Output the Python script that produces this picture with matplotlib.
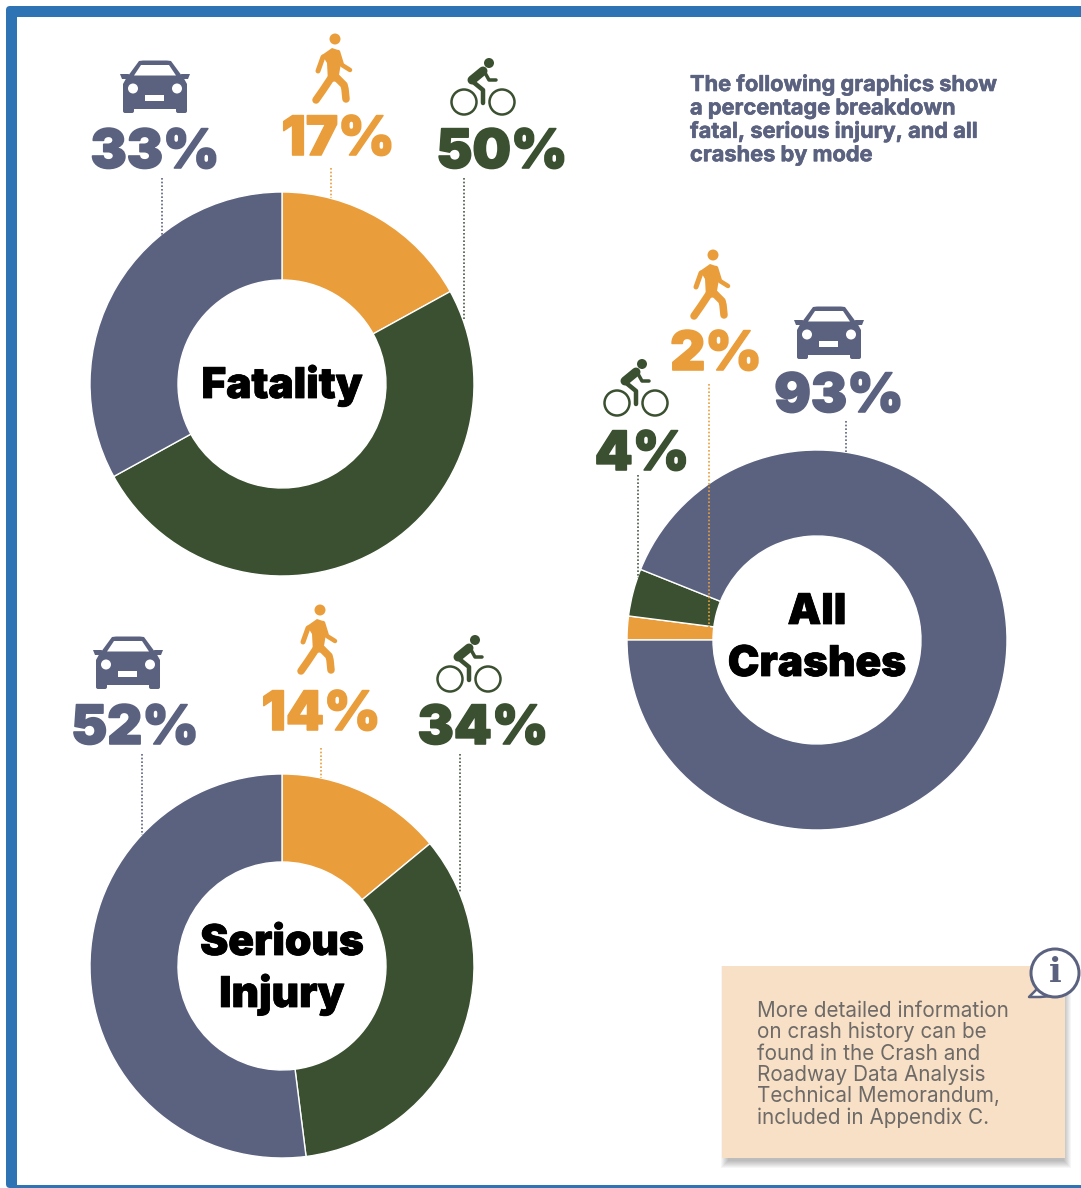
import matplotlib
matplotlib.use("Agg")
import matplotlib.pyplot as plt
import matplotlib.patheffects as pe
from matplotlib.patches import Circle, Polygon, Rectangle, FancyBboxPatch

W, H = 1081, 1188

slate = "#5b6280"
orange = "#ea9d3b"
green = "#3a5030"
leader_green = "#4a5a45"
frame_blue = "#2e74b5"
note_bg = "#f8e0c6"

# crash shares by mode, in percent
mode_colors = [orange, green, slate]
fatality_values = [17, 50, 33]
serious_values = [14, 34, 52]
all_crash_values = [2, 4, 93]

intro_lines = ["The following graphics show", "a percentage breakdown",
               "fatal, serious injury, and all", "crashes by mode"]
note_lines = ["More detailed information", "on crash history can be",
              "found in the Crash and", "Roadway Data Analysis",
              "Technical Memorandum,", "included in Appendix C."]

HEAVY = dict(family=["Inter", "DejaVu Sans"], fontweight=900)

fig = plt.figure(figsize=(W / 100, H / 100), dpi=100)
ax = fig.add_axes([0, 0, 1, 1])


def yy(y):
    # layout below is in pixels from the top edge
    return H - y


def px(v):
    return v * 72 / 100


def fatten(width, color):
    return [pe.withStroke(linewidth=px(width), foreground=color)]


def donut(values, colors, cx, cy, r_out, r_in, start):
    ax.pie(values, colors=colors, startangle=start, counterclock=False,
           radius=r_out, center=(cx, yy(cy)), frame=False,
           wedgeprops=dict(width=r_out - r_in, edgecolor="white", linewidth=1.0))


def leader(x, y0, y1, color):
    ax.plot([x, x], [yy(y0), yy(y1)], color=color, lw=1.2,
            linestyle=(0, (1, 1.2)), zorder=4)


def percent(x, baseline, value, color):
    ax.text(x, yy(baseline), f"{value}%", color=color, fontsize=39, ha="center",
            va="baseline", zorder=5, path_effects=fatten(1.6, color), **HEAVY)


def center_label(x, baseline, s):
    ax.text(x, yy(baseline), s, color="black", fontsize=30.5, ha="center",
            va="baseline", zorder=5, path_effects=fatten(0.8, "black"), **HEAVY)


def stroke(x0, y0, points, width, color):
    xs = [x0 + p[0] for p in points]
    ys = [yy(y0 + p[1]) for p in points]
    ax.plot(xs, ys, color=color, lw=px(width), solid_capstyle="round",
            solid_joinstyle="round", zorder=5)


def blob(x0, y0, points, color, z=5):
    ax.add_patch(Polygon([(x0 + a, yy(y0 + b)) for a, b in points],
                         closed=True, fc=color, ec="none", zorder=z))


def car_icon(cx, cy, color=slate):
    blob(cx, cy, [(-27, -12), (27, -12), (32, -3), (32, 22), (-32, 22), (-32, -3)], color)
    blob(cx, cy, [(-27, -11), (-16, -26), (-12, -26.5), (12, -26.5), (16, -26), (27, -11)], color)
    blob(cx, cy, [(-21, -11.5), (-14, -22), (14, -22), (21, -11.5)], "white", 6)
    blob(cx, cy, [(-35, -13), (-26, -13), (-27, -8), (-33, -8)], color)
    blob(cx, cy, [(35, -13), (26, -13), (27, -8), (33, -8)], color)
    for dx in (-32, 21):
        ax.add_patch(FancyBboxPatch((cx + dx, yy(cy + 26)), 11, 8,
                                    boxstyle="round,pad=0,rounding_size=2",
                                    fc=color, ec="none", zorder=5))
    for dx in (-22, 22):
        ax.add_patch(Circle((cx + dx, yy(cy + 1.5)), 5, fc="white", ec="none", zorder=6))
    ax.add_patch(Rectangle((cx - 10, yy(cy + 13.5)), 19, 6, fc="white", ec="none", zorder=6))


def walker_icon(hx, hy, color=orange):
    ax.add_patch(Circle((hx, yy(hy)), 5.5, fc=color, ec="none", zorder=5))
    blob(hx, hy, [(-13, 16), (-3, 9), (3, 11), (6, 24), (4, 36), (8, 42),
                  (-7, 43), (-8, 24)], color)
    stroke(hx, hy, [(-12, 18), (-17, 32)], 5, color)
    stroke(hx, hy, [(3, 13), (7, 26), (15, 31)], 4.5, color)
    stroke(hx, hy, [(-4, 39), (-12, 51), (-19, 61)], 7.5, color)
    stroke(hx, hy, [(2, 39), (9, 46), (10, 50), (11, 60)], 7.5, color)


def bike_icon(hx, hy, color=green):
    ax.add_patch(Circle((hx, yy(hy)), 5, fc=color, ec="none", zorder=5))
    for dx in (-25, 13):
        ax.add_patch(Circle((hx + dx, yy(hy + 39)), 12.5, fc="white", ec=color,
                            lw=px(2.5), zorder=5))
    stroke(hx, hy, [(-6, 8), (-17, 17)], 9, color)
    stroke(hx, hy, [(-5, 8), (0, 17), (7, 17)], 3.5, color)
    stroke(hx, hy, [(-17, 18), (-6, 27), (-6, 40)], 4.5, color)


# page frame
ax.add_patch(Rectangle((0, 0), W, H, fc="white", ec="none", zorder=0))
ax.add_patch(FancyBboxPatch((6, yy(1188)), W + 40, 1182,
                            boxstyle="round,pad=0,rounding_size=4",
                            fc=frame_blue, ec="none", zorder=0.5))
ax.add_patch(Rectangle((17, yy(1185)), W, 1168, fc="white", ec="none", zorder=0.6))

donut(fatality_values, mode_colors, 282, 384, 192, 104, 90)
donut(serious_values, mode_colors, 282, 966, 192, 104, 90)
donut(all_crash_values, mode_colors, 817, 640, 190, 104, 180)

center_label(282, 398, "Fatality")
center_label(282, 955, "Serious")
center_label(282, 1007, "Injury")
center_label(817, 624, "All")
center_label(817, 676, "Crashes")

leader(162, 178, 235, slate)
leader(331, 168, 198, orange)
leader(464, 178, 320, leader_green)
leader(142, 754, 835, slate)
leader(321, 748, 778, orange)
leader(460, 754, 893, leader_green)
leader(638, 475, 578, leader_green)
leader(709, 384, 630, orange)
leader(846, 421, 452, slate)

percent(155, 168, fatality_values[2], slate)
percent(338, 155, fatality_values[0], orange)
percent(502, 168, fatality_values[1], green)
percent(135, 744, serious_values[2], slate)
percent(321, 730, serious_values[0], orange)
percent(483, 744, serious_values[1], green)
percent(839, 412, all_crash_values[2], slate)
percent(716, 370, all_crash_values[0], orange)
percent(642, 470, all_crash_values[1], green)

car_icon(155, 87)
car_icon(829, 333)
car_icon(128, 663)
walker_icon(335, 39)
walker_icon(713, 255)
walker_icon(320, 610)
bike_icon(489, 63)
bike_icon(642, 364)
bike_icon(475, 640)

for i, line in enumerate(intro_lines):
    ax.text(690, yy(91 + i * 23.4), line, color=slate, fontsize=15.7, va="baseline",
            family=["Inter", "DejaVu Sans"], fontweight="bold", zorder=5,
            path_effects=fatten(0.6, slate))

# note box, soft shadow on the lower right from stacked translucent rectangles
for grow in range(5, -3, -1):
    ax.add_patch(Rectangle((726 - grow, yy(1163 + grow)), 340 + 2 * grow, 192 + 2 * grow,
                           fc="black", ec="none", alpha=0.035, zorder=1))
ax.add_patch(Rectangle((722, yy(1158)), 343, 192, fc=note_bg, ec="none", zorder=2))
for i, line in enumerate(note_lines):
    ax.text(757, yy(1017 + i * 21.3), line, color="#6d6a68", fontsize=14.9, va="baseline",
            family=["Inter", "DejaVu Sans"], zorder=5)

# info bubble
ax.add_patch(Polygon([(1040, yy(986)), (1029, yy(997)), (1040, yy(997)), (1052, yy(996))],
                     closed=True, fc="white", ec=slate, lw=px(2.5), joinstyle="round", zorder=6))
ax.add_patch(Circle((1055, yy(973)), 24, fc="white", ec=slate, lw=px(3), zorder=7))
ax.text(1055, yy(973), "i", color=slate, fontsize=24, ha="center", va="center",
        family="DejaVu Serif", fontweight="bold", zorder=8)

ax.set_xlim(0, W)
ax.set_ylim(0, H)
ax.set_aspect("auto")
ax.axis("off")
fig.savefig("out.png", dpi=100)
